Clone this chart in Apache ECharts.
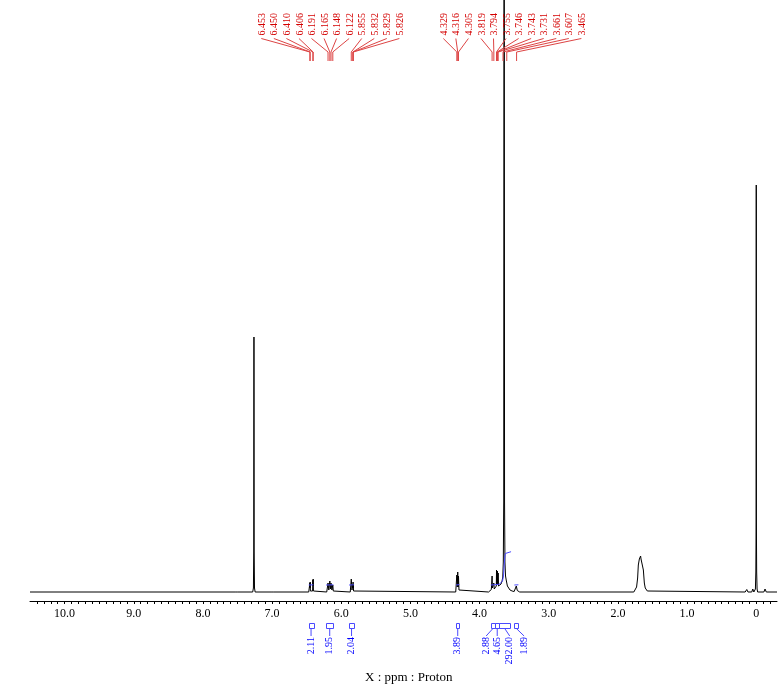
<!DOCTYPE html>
<html><head><meta charset="utf-8">
<script src="https://cdn.jsdelivr.net/npm/echarts@6/dist/echarts.min.js"></script>
<style>html,body{margin:0;padding:0;background:#fff}#c{width:780px;height:687px}</style>
</head><body><div id="c"></div>
<script>
// ---- Data ----
// spectrum trace: [chemical shift (ppm), intensity (arbitrary units)]
const spectrum = [
  [10.5,0],
  [7.535,0],[7.52,2],[7.505,0],
  [7.28,0],[7.27,4],[7.265,40],[7.262,255],[7.259,40],[7.254,4],[7.245,0],
  [7.015,0],[7.0,2],[6.985,0],
  [6.47,0],[6.456,1],[6.453,9],[6.4515,4],[6.450,10],[6.446,1],[6.414,1],[6.410,12],[6.408,6],[6.406,13],[6.402,1],[6.39,0],
  [6.21,0],[6.195,1],[6.191,9],[6.18,2],[6.165,11],[6.157,3],[6.148,9],[6.135,2],[6.122,7],[6.115,1],[6.10,0],
  [5.87,0],[5.858,1],[5.855,13],[5.845,2],[5.835,2],[5.832,8],[5.8305,4],[5.829,10],[5.8275,4],[5.826,7],[5.822,1],[5.81,0],
  [4.345,0],[4.333,2],[4.329,17],[4.322,5],[4.316,20],[4.31,5],[4.305,16],[4.298,2],[4.285,0],
  [3.87,0],[3.85,1.5],[3.83,2.5],[3.822,4],[3.819,16],[3.815,4],[3.80,3],[3.794,9],[3.788,3],[3.765,3],[3.758,6],
  [3.755,22],[3.751,8],[3.746,20],[3.7445,10],[3.743,21],[3.738,7],[3.731,19],[3.726,6],[3.71,6],[3.69,8],[3.675,11],
  [3.665,15],[3.657,30],[3.651,90],[3.645,1000],[3.639,90],[3.633,30],[3.625,16],[3.615,12],[3.607,10],[3.598,6],
  [3.585,4],[3.56,2],[3.53,1],[3.5,0.5],
  [3.49,0.5],[3.475,2],[3.469,6],[3.465,4],[3.461,5.5],[3.455,1.5],[3.44,0.5],[3.42,0],
  [1.77,0],[1.745,2],[1.73,5],[1.715,14],[1.705,27],[1.69,33],[1.68,34],[1.672,36],[1.666,33],[1.658,32],[1.647,31],
  [1.632,22],[1.618,9],[1.605,4],[1.593,2],[1.575,1],[1.55,0],
  [0.16,0],[0.137,2.5],[0.12,0],[0.065,0],[0.05,3],[0.035,0],
  [0.02,0],[0.012,3],[0.006,20],[0.002,70],[0.0,407],[-0.002,70],[-0.006,20],[-0.012,3],[-0.02,0],
  [-0.11,0],[-0.127,3],[-0.145,0],
  [-0.3,0]
];
// picked peaks (ppm)
const peakShifts = [6.453,6.450,6.410,6.406,6.191,6.165,6.148,6.122,5.855,5.832,5.829,5.826,
                    4.329,4.316,4.305,3.819,3.794,3.755,3.746,3.743,3.731,3.661,3.607,3.465];
// integral regions (ppm) and values
const integralStart = [6.470, 6.219, 5.887, 4.340, 3.838, 3.776, 3.714, 3.497];
const integralEnd   = [6.403, 6.114, 5.815, 4.292, 3.776, 3.714, 3.559, 3.439];
const integralValues = [2.11, 1.95, 2.04, 3.89, 2.88, 4.65, 292.00, 1.89];
// integral curves drawn on the spectrum: [ppm, level]
const integralCurves = [
  [[6.470,7],[6.403,7.2]],
  [[6.219,7],[6.114,7.2]],
  [[5.887,7],[5.815,7.2]],
  [[4.340,7],[4.292,7.4]],
  [[3.838,7],[3.776,7.3],[3.714,7.8],[3.700,8.7],[3.668,11],[3.655,16],[3.645,26],[3.637,34],[3.628,38.5],[3.615,40],[3.545,40.3]],
  [[3.497,7],[3.439,7.2]]
];
const xMin = -0.3, xMax = 10.5, xInterval = 0.1;
const axisTitle = 'X : ppm : Proton';

// ---- Layout / style ----
const FONT = '"Liberation Serif", "Times New Roman", serif';
const RED = '#d40000', RED_LINE = '#dd4444', BLUE = '#0000ff', BLUE_LINE = '#4a4aff';
const labelGroupStart = [262.3, 444.3];   // px, x of first label in each group
const labelSpacing = 12.55;
const integralTextShift = [0, 0, 0, 0, -6.8, 0, 5, 7.7]; // px shift of crowded integral labels

const chart = echarts.init(document.getElementById('c'), null, {renderer: 'canvas'});

const groupIndex = peakShifts.map(p => p > 5 ? 0 : 1);
const posInGroup = [];
{ const cnt = [0, 0]; groupIndex.forEach((g, i) => { posInGroup[i] = cnt[g]++; }); }

const series = [
  {
    type: 'line', data: spectrum, showSymbol: false, symbol: 'none', sampling: false,
    lineStyle: {color: '#000', width: 1}, animation: false, clip: true, z: 3
  }
];
integralCurves.forEach(c => series.push({
  type: 'line', data: c, showSymbol: false, symbol: 'none', smooth: false,
  lineStyle: {color: BLUE_LINE, width: 1}, animation: false, z: 4
}));
// peak labels
series.push({
  type: 'custom', animation: false, clip: false, z: 5,
  data: peakShifts.map((p, i) => [p, i]),
  encode: {x: 0, y: 1},
  renderItem: function (params, api) {
    const i = api.value(1);
    const px = api.coord([api.value(0), 0])[0];
    const lx = labelGroupStart[groupIndex[i]] + posInGroup[i] * labelSpacing;
    return {
      type: 'group', children: [
        {type: 'polyline', shape: {points: [[lx - 1, 38.5], [px, 52], [px, 61]]},
         style: {stroke: RED_LINE, lineWidth: 1, fill: null}},
        {type: 'text', x: lx, y: 35.5, rotation: Math.PI / 2,
         style: {text: peakShifts[i].toFixed(3), fill: RED, font: '10px ' + FONT,
                 align: 'left', verticalAlign: 'middle'}}
      ]
    };
  }
});
// integral labels
series.push({
  type: 'custom', animation: false, clip: false, z: 5,
  data: integralStart.map((s, i) => [s, integralEnd[i], i]),
  encode: {x: [0, 1], y: 2},
  renderItem: function (params, api) {
    const i = api.value(2);
    const x1 = api.coord([api.value(0), 0])[0];
    const x2 = api.coord([api.value(1), 0])[0];
    const cx = (x1 + x2) / 2;
    const tx = cx + integralTextShift[i];
    return {
      type: 'group', children: [
        {type: 'rect', shape: {x: Math.round(x1) + 0.5, y: 623.5, width: Math.max(3, Math.round(x2 - x1)), height: 5},
         style: {stroke: BLUE_LINE, lineWidth: 1, fill: null}},
        {type: 'line', shape: {x1: cx, y1: 628.5, x2: tx, y2: 636},
         style: {stroke: BLUE_LINE, lineWidth: 1}},
        {type: 'text', x: tx, y: 637, rotation: Math.PI / 2,
         style: {text: integralValues[i].toFixed(2), fill: BLUE, font: '10px ' + FONT,
                 align: 'right', verticalAlign: 'middle'}}
      ]
    };
  }
});

chart.setOption({
  animation: false,
  backgroundColor: '#fff',
  title: {
    text: axisTitle, left: 360, top: 666,
    textStyle: {fontFamily: FONT, fontSize: 13, fontWeight: 'normal', color: '#000'}
  },
  grid: {left: 30, right: 3, top: 0, bottom: 86, containLabel: false},
  xAxis: {
    type: 'value', inverse: true, min: xMin, max: xMax, interval: xInterval,
    axisLine: {show: true, onZero: false, lineStyle: {color: '#000', width: 1}},
    axisTick: {show: true, length: 3, lineStyle: {color: '#000', width: 1}},
    splitLine: {show: false},
    axisLabel: {
      margin: 7, color: '#000', fontFamily: FONT, fontSize: 12,
      showMinLabel: false, showMaxLabel: false,
      formatter: function (v) {
        const r = Math.round(v);
        if (Math.abs(v - r) > 1e-6) return '';
        return r === 0 ? '0' : r.toFixed(1);
      }
    }
  },
  yAxis: {type: 'value', min: -9, max: 592, show: false},
  series: series
});
</script></body></html>
